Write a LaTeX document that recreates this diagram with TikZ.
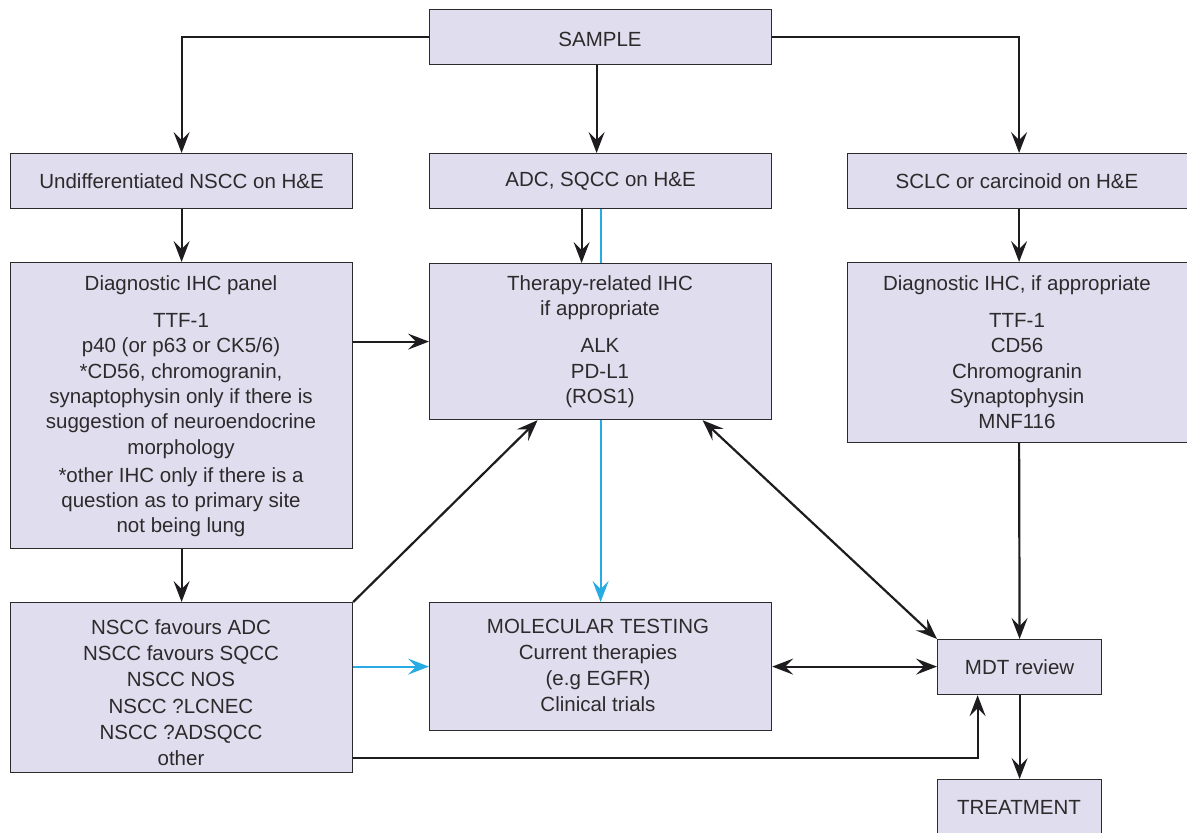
\documentclass[tikz,border=0pt]{standalone}
\usepackage{fontspec}
\setmainfont{Liberation Sans}
\usetikzlibrary{arrows.meta}
\definecolor{boxfill}{RGB}{224,221,238}
\definecolor{boxline}{RGB}{45,42,44}
\definecolor{arrblack}{RGB}{30,28,30}
\definecolor{arrblue}{RGB}{40,170,226}
\begin{document}
\begin{tikzpicture}[x=1pt,y=-1pt,
  box/.style={draw=boxline,fill=boxfill,line width=1.2pt,inner sep=0pt,anchor=north west,
    font=\fontsize{20.5}{25.3}\selectfont,text=boxline},
  txt/.style={inner sep=0pt,anchor=north,align=center,text=boxline,
    font=\fontsize{20.5}{25.3}\selectfont},
  tip/.style={Stealth[length=21pt,width=16pt,inset=8pt]},
  arr/.style={draw=arrblack,line width=2.2pt,-{Stealth[length=21pt,width=16pt,inset=8pt]}},
  darr/.style={draw=arrblack,line width=2.2pt,{Stealth[length=21pt,width=16pt,inset=8pt]}-{Stealth[length=21pt,width=16pt,inset=8pt]}},
  barr/.style={draw=arrblue,line width=2.2pt,-{Stealth[length=21pt,width=16pt,inset=8pt]}},
  bline/.style={draw=arrblue,line width=2.2pt}
]
\useasboundingbox (0,0) rectangle (1187,833);

% boxes
\node[box,minimum width=342pt,minimum height=55pt] (sample) at (429,9) {};
\node[txt] (sampletxt) at (600,32) {SAMPLE};
\node[box,minimum width=342pt,minimum height=55pt] (undiff) at (10,153) {Undifferentiated NSCC on H\&E};
\node[box,minimum width=342pt,minimum height=55pt] (adc) at (429,153) {ADC, SQCC on H\&E};
\node[box,minimum width=350pt,minimum height=55pt] (sclc) at (847,153) {};
\node[txt] (sclctxt) at (1017,173) {SCLC or carcinoid on H\&E};
\node[box,minimum width=342pt,minimum height=286pt] (diag) at (10,262) {};
\node[box,minimum width=342pt,minimum height=156pt] (ther) at (429,263) {};
\node[box,minimum width=350pt,minimum height=180pt] (sclcdiag) at (847,262) {};
\node[box,minimum width=342pt,minimum height=170pt] (fav) at (10,602) {};
\node[box,minimum width=342pt,minimum height=128pt] (mol) at (429,602) {};
\node[box,minimum width=164pt,minimum height=55pt] (mdt) at (937,639) {MDT review};
\node[box,minimum width=164pt,minimum height=70pt] (treat) at (937,779) {};
\node[txt] (treattxt) at (1019,800.5) {TREATMENT};

% texts
\node[txt] (diagtxt) at (181,275.5) {Diagnostic IHC panel\\[11.7pt]
  TTF-1\\ p40 (or p63 or CK5/6)\\ *CD56, chromogranin,\\ synaptophysin only if there is\\
  suggestion of neuroendocrine\\ morphology\\[2.7pt] *other IHC only if there is a\\
  question as to primary site\\ not being lung};
\node[txt] (thertxt) at (600,275.5) {Therapy-related IHC\\ if appropriate\\[11.7pt]
  ALK\\ PD-L1\\ (ROS1)};
\node[txt] (sclcdiagtxt) at (1017,275.5) {Diagnostic IHC, if appropriate\\[11.7pt]
  TTF-1\\ CD56\\ Chromogranin\\ Synaptophysin\\ MNF116};
\node[txt,font=\fontsize{20.5}{26.2}\selectfont] (favtxt) at (181,619.5) {NSCC favours ADC\\
  NSCC favours SQCC\\ NSCC NOS\\ NSCC ?LCNEC\\ NSCC ?ADSQCC\\ other};
\node[txt,font=\fontsize{20.5}{26}\selectfont] (moltxt) at (598,618.5) {MOLECULAR TESTING\\
  Current therapies\\ (e.g EGFR)\\ Clinical trials};

% connectors
\draw[arr] (sample.west) -| (undiff.north);
\draw[arr] (sample.east) -| ([xshift=-3.5pt]sclc.north);
\draw[arr] ([xshift=-4pt]sample.south) -- ([xshift=-4pt]adc.north);
\draw[arr] (undiff.south) -- (diag.north);
\draw[arr] ([xshift=-19pt]adc.south) -- ([xshift=-19pt]ther.north);
\draw[bline] (adc.south) -- (ther.north);
\draw[barr] (ther.south) -- (mol.north);
\draw[arr] ([xshift=-3.5pt]sclc.south) -- ([xshift=-3.5pt]sclcdiag.north);
\draw[arr] (diag.east |- ther.west) -- (ther.west);
\draw[arr] (diag.south) -- (fav.north);
\draw[arr] (fav.north east) -- ([xshift=-63pt]ther.south);
\draw[barr] (fav.east |- mol.west) -- (mol.west);
\draw[arr] ([yshift=-70pt]fav.east) -| ([xshift=-42pt]mdt.south);
\draw[darr] ([xshift=102pt]ther.south) -- (mdt.north west);
\draw[darr] (mol.east) -- (mol.east -| mdt.west);
\draw[arr] ([xshift=-3.5pt]sclcdiag.south) -- (mdt.north);
\draw[arr] (mdt.south) -- (treat.north);
\end{tikzpicture}
\end{document}
